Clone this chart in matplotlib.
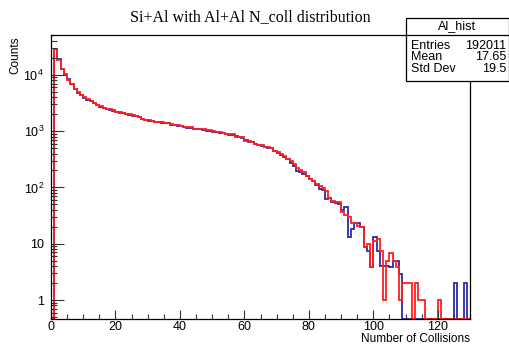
import numpy as np
import matplotlib
matplotlib.use("Agg")
import matplotlib.pyplot as plt
from matplotlib.patches import Rectangle
from matplotlib.ticker import FixedLocator, FixedFormatter, LogLocator, NullFormatter, MultipleLocator

plt.rcParams['font.family'] = ['Liberation Sans', 'DejaVu Sans']
plt.rcParams['mathtext.fontset'] = 'custom'
plt.rcParams['mathtext.rm'] = 'Liberation Sans'
plt.rcParams['mathtext.it'] = 'Liberation Sans'

# bin edges 0..130, one bin per collision number
edges = np.arange(0, 131)

# Si+Al (red)
si_al = [
    0,
    29000, 18500, 12600, 10200, 8200, 6900, 5600, 4900, 4400, 4000,
    3650, 3400, 3200, 2950, 2750, 2600, 2480, 2450, 2330, 2200,
    2150, 2080, 2040, 2000, 1930, 1880, 1750, 1620, 1600, 1560,
    1540, 1480, 1450, 1430, 1400, 1380, 1330, 1280, 1260, 1240,
    1170, 1160, 1170, 1110, 1100, 1090, 1080, 1040, 1030, 990,
    970, 955, 940, 900, 890, 880, 800, 790, 780, 680,
    660, 650, 590, 575, 560, 530, 525, 510, 440, 420,
    390, 355, 325, 293, 256, 225, 208, 185, 158, 144,
    130, 117, 105, 96, 86, 66, 57, 54, 54, 36,
    33, 30, 23, 23, 21, 20, 8.7, 10, 3.8, 11,
    12, 7.4, 1, 5, 6.8, 4.9, 3.8, 1, 2, 2,
    2, 0, 2, 1, 1, 0, 0, 0, 0, 1,
    0, 0, 0, 0, 0, 0, 0, 0, 0,
]

# Al+Al (blue)
al_al = [
    0,
    28500, 18800, 12500, 10000, 8300, 6800, 5600, 4850, 4350, 3950,
    3600, 3380, 3150, 2900, 2700, 2600, 2500, 2400, 2300, 2180,
    2120, 2060, 2000, 1900, 1850, 1820, 1760, 1640, 1580, 1540,
    1530, 1460, 1440, 1420, 1380, 1370, 1310, 1270, 1250, 1220,
    1180, 1150, 1130, 1100, 1080, 1080, 1050, 1020, 1000, 980,
    960, 940, 920, 900, 870, 850, 810, 780, 760, 700,
    650, 630, 600, 560, 550, 520, 500, 500, 440, 410,
    380, 350, 320, 275, 245, 195, 190, 175, 160, 142,
    128, 112, 95, 90, 62, 66, 56, 52, 50, 40,
    44, 13, 18, 23, 23, 20, 8.7, 7.4, 3.8, 13,
    7.4, 4, 4, 4, 3.8, 4.9, 4.9, 2.9, 0, 0,
    0, 0, 0, 0, 0, 0, 0, 0, 0, 0,
    0, 0, 0, 0, 2, 0, 0, 2, 0,
]

y_ticks = [1, 10, 100, 1000, 10000]
y_tick_labels = ["1", "10", r"$10^{2}$", r"$10^{3}$", r"$10^{4}$"]
x_ticks = [0, 20, 40, 60, 80, 100, 120]

stats_rows = [("Entries", "192011"), ("Mean", "17.65"), ("Std Dev", "19.5")]

W, H = 510, 345
fig = plt.figure(figsize=(W / 100, H / 100), dpi=100)
ax = fig.add_axes([51 / W, 1 - 319 / H, 419 / W, 284 / H])

ymin, ymax = 0.46, 5.1e4
ax.set_yscale('log')
ax.set_xlim(0, 130)
ax.set_ylim(ymin, ymax)

for vals, col in [(al_al, '#2b2ba8'), (si_al, '#ff2020')]:
    v = np.array(vals, dtype=float)
    v = np.where(v > 0, v, ymin)
    ax.stairs(v, edges, color=col, lw=1.3, baseline=None)

ax.yaxis.set_major_locator(FixedLocator(y_ticks))
ax.yaxis.set_major_formatter(FixedFormatter(y_tick_labels))
ax.yaxis.set_minor_locator(LogLocator(base=10, subs=np.arange(2, 10), numticks=20))
ax.yaxis.set_minor_formatter(NullFormatter())
ax.xaxis.set_major_locator(FixedLocator(x_ticks))
ax.xaxis.set_minor_locator(MultipleLocator(5))

ax.tick_params(axis='both', which='both', direction='in', top=False, right=False,
               labelsize=9, width=0.8, color='#333333')
ax.tick_params(axis='x', which='major', length=6.5, pad=1.5)
ax.tick_params(axis='x', which='minor', length=3.5)
ax.tick_params(axis='y', which='major', length=9, pad=5)
ax.tick_params(axis='y', which='minor', length=4.5)
for s in ax.spines.values():
    s.set_linewidth(0.9)

fig.text(250 / W, 1 - 17 / H, "Si+Al with Al+Al N_coll distribution",
         family='Liberation Serif', fontsize=11.5, ha='center', va='center')
fig.text(15 / W, 1 - 36 / H, "Counts", rotation=90, fontsize=8.5,
         ha='center', va='top')
fig.text(470 / W, 1 - 339 / H, "Number of Collisions", fontsize=8.5,
         ha='right', va='center')

# stats box
bx0, bx1, by0, by1, sep = 406, 509, 18, 81, 35
fig.patches.append(Rectangle((bx0 / W, 1 - by1 / H), (bx1 - bx0) / W, (by1 - by0) / H,
                             transform=fig.transFigure, facecolor='white',
                             edgecolor='black', lw=0.9, zorder=5))
fig.add_artist(plt.Line2D([bx0 / W, bx1 / W], [1 - sep / H, 1 - sep / H],
                          transform=fig.transFigure, color='black', lw=0.9, zorder=6))
fig.text((bx0 + bx1) / 2 / W, 1 - 26 / H, "Al_hist", fontsize=9,
         ha='center', va='center', zorder=7)
for i, (name, val) in enumerate(stats_rows):
    yy = 1 - (46 + 11.5 * i) / H
    fig.text((bx0 + 5) / W, yy, name, fontsize=9, ha='left', va='center', zorder=7)
    fig.text((bx1 - 3) / W, yy, val, fontsize=9, ha='right', va='center', zorder=7)

fig.savefig("out.png", dpi=100)
